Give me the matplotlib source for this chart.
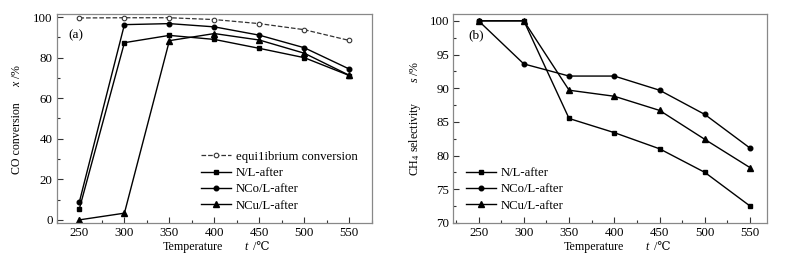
import matplotlib
matplotlib.use("Agg")
import matplotlib.pyplot as plt
from matplotlib.ticker import MultipleLocator

plt.rcParams['font.family'] = ['Liberation Serif', 'DejaVu Serif']
plt.rcParams['mathtext.fontset'] = 'custom'
plt.rcParams['mathtext.rm'] = 'Liberation Serif'
plt.rcParams['mathtext.it'] = 'Liberation Serif:italic'
plt.rcParams['font.size'] = 9

temps = [250, 300, 350, 400, 450, 500, 550]

# (a) CO conversion
eq_conv = [99.6, 99.7, 99.7, 98.8, 96.8, 93.8, 88.5]
nl_conv = [5.6, 87.4, 91.0, 89.0, 84.6, 80.0, 71.2]
nco_conv = [9.0, 96.3, 96.8, 95.2, 91.1, 84.9, 74.4]
ncu_conv = [0.0, 3.3, 88.4, 91.9, 88.7, 82.2, 71.3]

# (b) CH4 selectivity
nl_sel = [100.0, 100.0, 85.5, 83.4, 81.0, 77.5, 72.5]
nco_sel = [100.0, 93.6, 91.8, 91.8, 89.7, 86.1, 81.1]
ncu_sel = [100.0, 100.0, 89.7, 88.8, 86.7, 82.4, 78.2]

labels = ['N/L-after', 'NCo/L-after', 'NCu/L-after']

fig = plt.figure(figsize=(7.91, 2.61), dpi=100)
ax1 = fig.add_axes([0.072, 0.146, 0.398, 0.800])
ax2 = fig.add_axes([0.573, 0.146, 0.397, 0.800])

frame_col = '#888888'
for ax in (ax1, ax2):
    for s in ax.spines.values():
        s.set_color(frame_col)
        s.set_linewidth(0.9)
    ax.tick_params(which='both', direction='in', color='#333333', width=0.8,
                   top=False, right=False, pad=3, labelsize=9.3)
    ax.tick_params(which='major', length=4)
    ax.tick_params(which='minor', length=2.5)
    ax.xaxis.set_major_locator(MultipleLocator(50))
    ax.xaxis.set_minor_locator(MultipleLocator(25))

lab_fs = 8.6
leg_fs = 9.2
# axis labels built from plain and italic pieces
for xc, xt in ((0.244, 0.311), (0.751, 0.818)):
    fig.text(xc, 0.054, 'Temperature', ha='center', va='center', fontsize=lab_fs)
    fig.text(xt, 0.054, 't', ha='center', va='center', fontsize=lab_fs, style='italic')
    fig.text(xt + 0.005, 0.054, ' /℃', ha='left', va='center', fontsize=lab_fs)

fig.text(0.021, 0.47, 'CO conversion', rotation=90, ha='center', va='center', fontsize=lab_fs)
fig.text(0.021, 0.71, '$\\mathit{x}$ /%', rotation=90, ha='center', va='center', fontsize=lab_fs)
fig.text(0.525, 0.47, 'CH$_4$ selectivity', rotation=90, ha='center', va='center', fontsize=lab_fs)
fig.text(0.525, 0.725, '$\\mathit{s}$ /%', rotation=90, ha='center', va='center', fontsize=lab_fs)

lw = 1.0
ms = 3.3
ax1.plot(temps, eq_conv, '--', color='#333333', lw=0.9, marker='o', ms=ms,
         mfc='white', mec='#333333', mew=0.8, label='equi1ibrium conversion')
ax1.plot(temps, nl_conv, '-', color='black', lw=lw, marker='s', ms=ms, label=labels[0])
ax1.plot(temps, nco_conv, '-', color='black', lw=lw, marker='o', ms=ms, label=labels[1])
ax1.plot(temps, ncu_conv, '-', color='black', lw=lw, marker='^', ms=ms + 0.5, label=labels[2])
ax1.set_xlim(225, 575)
ax1.set_ylim(-1.5, 101.5)
ax1.yaxis.set_major_locator(MultipleLocator(20))
ax1.yaxis.set_minor_locator(MultipleLocator(10))
ax1.text(0.035, 0.90, '(a)', transform=ax1.transAxes, fontsize=9.5, va='center')
ax1.legend(loc='lower left', frameon=False, handlelength=2.35, handletextpad=0.4,
           labelspacing=0.33, borderaxespad=0.0, fontsize=leg_fs, bbox_to_anchor=(0.44, 0.03))

ax2.plot(temps, nl_sel, '-', color='black', lw=lw, marker='s', ms=ms, label=labels[0])
ax2.plot(temps, nco_sel, '-', color='black', lw=lw, marker='o', ms=ms, label=labels[1])
ax2.plot(temps, ncu_sel, '-', color='black', lw=lw, marker='^', ms=ms + 0.5, label=labels[2])
ax2.set_xlim(222, 569)
ax2.set_ylim(70, 101)
ax2.yaxis.set_major_locator(MultipleLocator(5))
ax2.yaxis.set_minor_locator(MultipleLocator(2.5))
ax2.text(0.048, 0.90, '(b)', transform=ax2.transAxes, fontsize=9.5, va='center')
ax2.legend(loc='lower left', frameon=False, handlelength=2.35, handletextpad=0.4,
           labelspacing=0.33, borderaxespad=0.0, fontsize=leg_fs, bbox_to_anchor=(0.023, 0.03))

fig.savefig('out.png', dpi=100)
